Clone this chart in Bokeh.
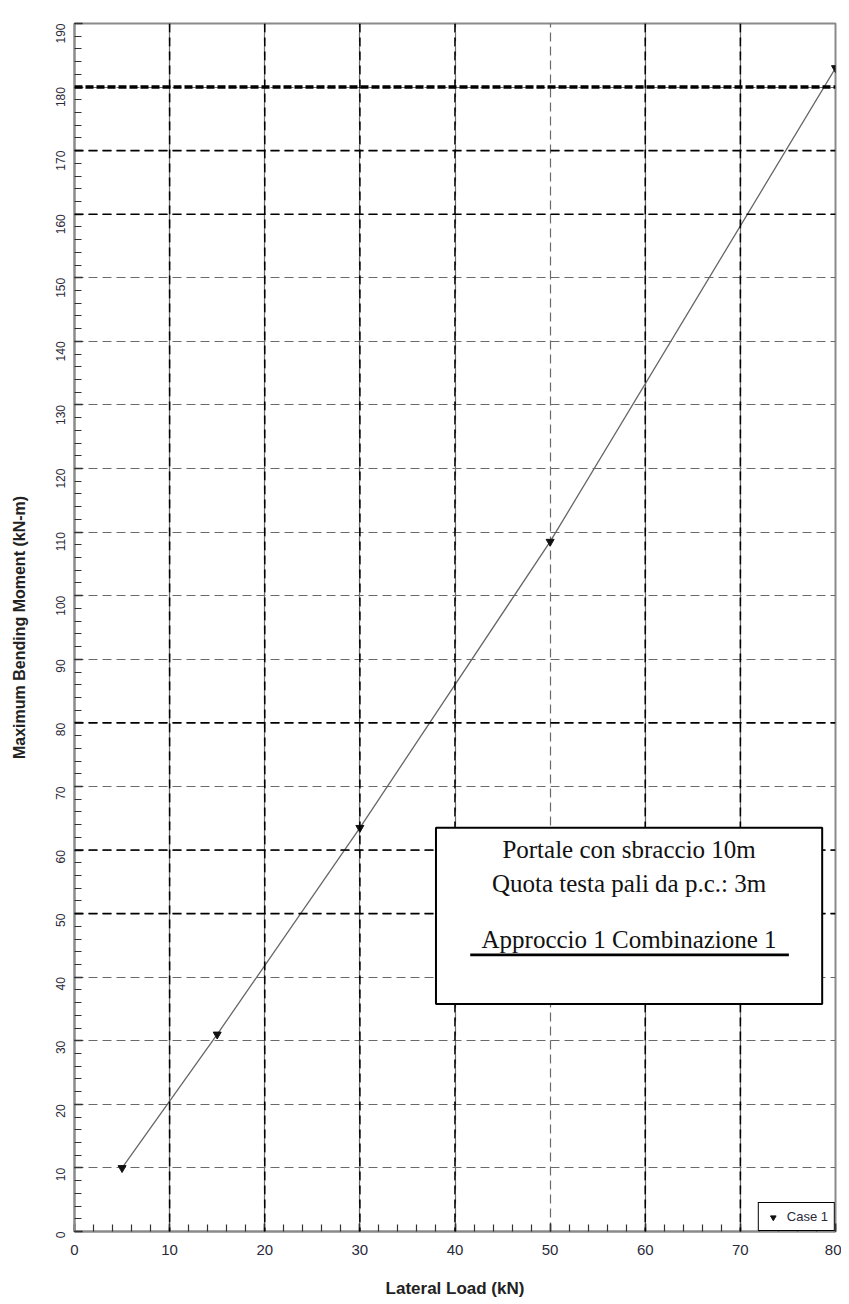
import math
from bokeh.plotting import figure
from bokeh.models import (SingleIntervalTicker, BoxAnnotation, Label, Span, Legend, LegendItem)
from bokeh.embed import file_html
from bokeh.resources import INLINE

# ---- data ----
lateral_load = [5, 15, 30, 50, 80]          # kN
max_moment = [10.0, 31.0, 63.5, 108.5, 183.0]  # kN-m
series_name = "Case 1"

x_title = "Lateral Load (kN)"
y_title = "Maximum Bending Moment (kN-m)"
box_lines = ["Portale con sbraccio 10m", "Quota testa pali da p.c.: 3m", "Approccio 1 Combinazione 1"]

# gridlines that appear darker in the original rendering (style only)
dark_h = [160, 170, 80, 60, 50]
dark_v = [10, 20, 30, 40, 60, 70]

p = figure(frame_width=761, frame_height=1208, min_border_left=74, min_border_right=6,
           min_border_top=23, min_border_bottom=65,
           x_range=(0, 80), y_range=(0, 190),
           output_backend="svg", toolbar_location=None)
p.background_fill_color = "white"
p.outline_line_color = "#8a8a8a"
p.outline_line_width = 2

for ax, interval in ((p.xaxis[0], 10), (p.yaxis[0], 10)):
    ax.ticker = SingleIntervalTicker(interval=interval, num_minor_ticks=5)
    ax.axis_line_color = "#8a8a8a"
    ax.axis_line_width = 2
    ax.major_tick_in = 8
    ax.major_tick_out = 0
    ax.minor_tick_in = 7
    ax.minor_tick_out = 0
    ax.major_tick_line_color = "#222222"
    ax.minor_tick_line_color = "#333333"
    ax.major_tick_line_width = 1.5
    ax.minor_tick_line_width = 1.2
    ax.major_label_text_color = "#2a2a3a"
    ax.major_label_text_font = "Liberation Sans"
    ax.axis_label_text_font = "Liberation Sans"
    ax.axis_label_text_font_style = "bold"
    ax.axis_label_text_color = "#222222"

p.xaxis.axis_label = x_title
p.xaxis.major_label_text_font_size = "15px"
p.xaxis.axis_label_text_font_size = "17px"
p.xaxis.major_label_standoff = 13
p.xaxis.axis_label_standoff = 21

p.yaxis.axis_label = y_title
p.yaxis.major_label_orientation = math.pi / 2
p.yaxis.major_label_text_font_size = "12px"
p.yaxis.axis_label_text_font_size = "16px"
p.yaxis.major_label_standoff = 14
p.yaxis.axis_label_standoff = 21

for g in (p.xgrid[0], p.ygrid[0]):
    g.grid_line_color = "#6a6a6a"
    g.grid_line_dash = "9 5"
    g.grid_line_width = 1.2

for v in dark_h:
    p.add_layout(Span(location=v, dimension="width", line_color="black",
                      line_dash="9 5", line_width=1.6))
for v in dark_v:
    p.add_layout(Span(location=v, dimension="height", line_color="black",
                      line_dash="9 5", line_width=1.6))
p.add_layout(Span(location=180, dimension="width", line_color="black",
                  line_dash="8 3", line_width=3.5))

ln = p.line(lateral_load, max_moment, line_color="#666666", line_width=1.3)
mk = p.scatter(lateral_load, max_moment, marker="inverted_triangle", size=8,
               fill_color="#111111", line_color="#111111")

# text box
p.add_layout(BoxAnnotation(left=38.0, right=78.6, bottom=35.8, top=63.5,
                           fill_color="white", fill_alpha=1.0,
                           line_color="black", line_alpha=1.0, line_width=2,
                           level="annotation"))
xc = 58.3
for txt, yy in zip(box_lines, [60.1, 54.7, 45.9]):
    p.add_layout(Label(x=xc, y=yy, text=txt, text_align="center", text_baseline="middle",
                       text_font="Liberation Serif", text_font_size="25px",
                       text_color="#111111", level="annotation"))
p.add_layout(BoxAnnotation(left=41.6, right=75.1, bottom=43.28, top=43.72,
                           fill_color="black", fill_alpha=1.0, line_color=None,
                           level="annotation"))

legend = Legend(items=[LegendItem(label=series_name, renderers=[mk])],
                location="bottom_right", margin=0, padding=6, spacing=0,
                glyph_width=16, glyph_height=14, label_standoff=6,
                label_text_font_size="13px", label_text_font="Liberation Sans",
                label_text_color="#2a2a3a", label_height=15,
                border_line_color="black", border_line_alpha=1.0, border_line_width=1.5,
                background_fill_alpha=1.0)
p.add_layout(legend)

open("out.html", "w").write(file_html(p, INLINE))
